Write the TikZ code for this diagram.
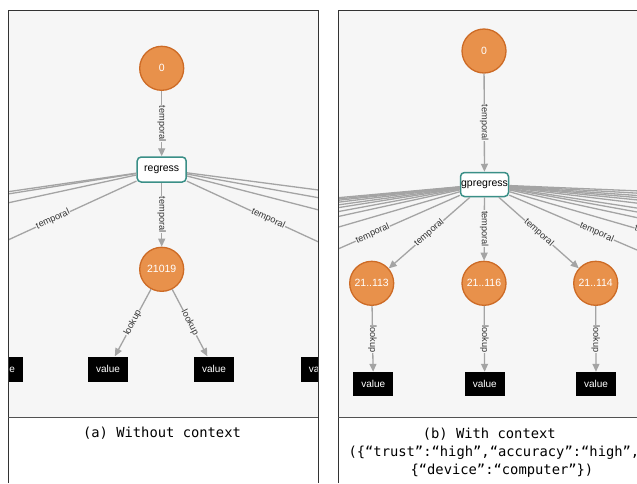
\documentclass[tikz,border=0pt]{standalone}
\usepackage{fontspec}
\setmainfont{Liberation Sans}
\newfontfamily\capfont{DejaVu Sans Mono}
\usetikzlibrary{arrows.meta}
\definecolor{panelbg}{HTML}{F6F6F6}
\definecolor{nodeorange}{HTML}{E8914B}
\definecolor{nodeedge}{HTML}{CD6B26}
\definecolor{tealbox}{HTML}{3A8F87}
\definecolor{edgegray}{HTML}{A4A4A4}
\definecolor{framegray}{HTML}{333333}
\begin{document}
\begin{tikzpicture}[x=1pt,y=-1pt,
  circ/.style={circle, draw=nodeedge, line width=1.3pt, fill=nodeorange, minimum size=44pt, inner sep=0pt, text=white, font=\fontsize{10.5}{12}\selectfont},
  opbox/.style={rounded corners=4pt, draw=tealbox, line width=1.5pt, fill=white, minimum width=49pt, minimum height=25pt, inner sep=0pt, font=\fontsize{10.5}{12}\selectfont},
  valbox/.style={fill=black, text=white, minimum width=40pt, minimum height=25pt, inner sep=0pt, font=\fontsize{10}{12}\selectfont},
  edge/.style={draw=edgegray, line width=1.3pt},
  arr/.style={edge, -{Triangle[length=8pt,width=7pt]}},
  elab/.style={fill=panelbg, inner sep=0.6pt, font=\fontsize{9.2}{10}\selectfont, text=black!80},
  caption/.style={font=\capfont\fontsize{13.8}{18.3}\selectfont}
]
\useasboundingbox (0,0) rectangle (637,483);
\fill[white] (0,0) rectangle (637,483);

% ---------------- panel (a) ----------------
\fill[panelbg] (8,10) rectangle (318,417);
\begin{scope}
\clip (8,10) rectangle (318,417);
\node[circ] (a0) at (161.7,68.3) {0};
\node[opbox] (areg) at (161.7,169.5) {regress};
\node[circ] (a21019) at (161.7,269.3) {21019};
\node[valbox] (avL) at (108,369) {value};
\node[valbox] (avR) at (214,369) {value};
\node[valbox] (avLL) at (3,369) {value};
\node[valbox] (avRR) at (320.7,369) {value};
\coordinate (aL1) at (6,192);
\coordinate (aL2) at (6,194.3);
\coordinate (aL3) at (6,203.3);
\coordinate (aL4) at (8,240);
\coordinate (aR1) at (320,190.2);
\coordinate (aR2) at (320,198);
\coordinate (aR3) at (320,210.3);
\coordinate (aR4) at (318,241.7);
\draw[edge] (areg) -- (aL1);
\draw[edge] (areg) -- (aL2);
\draw[edge] (areg) -- (aL3);
\draw[edge] (areg) -- node[elab, sloped, pos=0.65] {temporal} (aL4);
\draw[edge] (areg) -- (aR1);
\draw[edge] (areg) -- (aR2);
\draw[edge] (areg) -- (aR3);
\draw[edge] (areg) -- node[elab, sloped, pos=0.62] {temporal} (aR4);
\draw[arr] (a0) -- node[elab, rotate=-90] {temporal} (areg);
\draw[arr] (areg) -- node[elab, rotate=-90] {temporal} (a21019);
\draw[arr] (a21019) -- node[elab, sloped] {lookup} (avL);
\draw[arr] (a21019) -- node[elab, sloped] {lookup} (avR);
\end{scope}
\draw[framegray, line width=1pt] (8,483) -- (8,10) -- (318,10) -- (318,483);
\draw[framegray!85, line width=1pt] (8,417) -- (318,417);
\node[caption] (capa) at (162,433.5) {(a) Without context};

% ---------------- panel (b) ----------------
\fill[panelbg] (338,10) rectangle (637,417);
\begin{scope}
\clip (338,10) rectangle (637,417);
\node[circ] (b0) at (484,51) {0};
\node[opbox, minimum width=48pt, minimum height=24pt] (breg) at (484.5,184.5) {gpregress};
\node[circ] (b113) at (371.7,283.3) {21..113};
\node[circ] (b116) at (484,283.3) {21..116};
\node[circ] (b114) at (595.7,283.3) {21..114};
\node[valbox, minimum height=24pt] (bv1) at (373.3,384) {value};
\node[valbox, minimum height=24pt] (bv2) at (484.7,384) {value};
\node[valbox, minimum height=24pt] (bv3) at (596,384) {value};
\coordinate (bL1) at (336,197.9);
\coordinate (bL2) at (336,199.2);
\coordinate (bL3) at (336,200.5);
\coordinate (bL4) at (336,202.5);
\coordinate (bL5) at (336,205.2);
\coordinate (bL6) at (336,208);
\coordinate (bL7) at (336,212);
\coordinate (bL8) at (336,217);
\coordinate (bL9) at (336,227.8);
\coordinate (bL10) at (338,249);
\coordinate (bR1) at (640,191);
\coordinate (bR2) at (640,193.3);
\coordinate (bR3) at (640,195.7);
\coordinate (bR4) at (640,197.8);
\coordinate (bR5) at (640,200.2);
\coordinate (bR6) at (640,203.5);
\coordinate (bR7) at (640,208.5);
\coordinate (bR8) at (640,212.5);
\coordinate (bR9) at (640,218.3);
\coordinate (bR10) at (700,246.9);
\coordinate (bR11) at (637,250);
\foreach \k in {1,...,9} {\draw[edge] (breg) -- (bL\k);}
\foreach \k in {1,...,9} {\draw[edge] (breg) -- (bR\k);}
\draw[edge] (breg) -- node[elab, sloped, pos=0.715] {temporal} (bL10);
\draw[edge] (breg) -- node[elab, sloped, pos=0.75] {temporal} (bR10);
\draw[edge] (breg) -- node[elab, sloped, pos=0.685] {temporal} (bR11);
\draw[arr] (b0) -- node[elab, rotate=-90] {temporal} (breg);
\draw[arr] (breg) -- node[elab, sloped] {temporal} (b113);
\draw[arr] (breg) -- node[elab, rotate=-90] {temporal} (b116);
\draw[arr] (breg) -- node[elab, sloped] {temporal} (b114);
\draw[arr] (b113) -- node[elab, rotate=-90] {lookup} (bv1);
\draw[arr] (b116) -- node[elab, rotate=-90] {lookup} (bv2);
\draw[arr] (b114) -- node[elab, rotate=-90] {lookup} (bv3);
\end{scope}
\draw[framegray, line width=1pt] (338,483) -- (338,10) -- (637,10);
\draw[framegray!85, line width=1pt] (338,417) -- (637,417);
\node[caption, align=left, anchor=west] (capb) at (345,452.5)
  {\hspace*{74.3pt}(b) With context\\(\{“trust”:“high”,“accuracy”:“high”,\\\hspace*{62pt}\{“device”:“computer”\})};
\end{tikzpicture}
\end{document}
